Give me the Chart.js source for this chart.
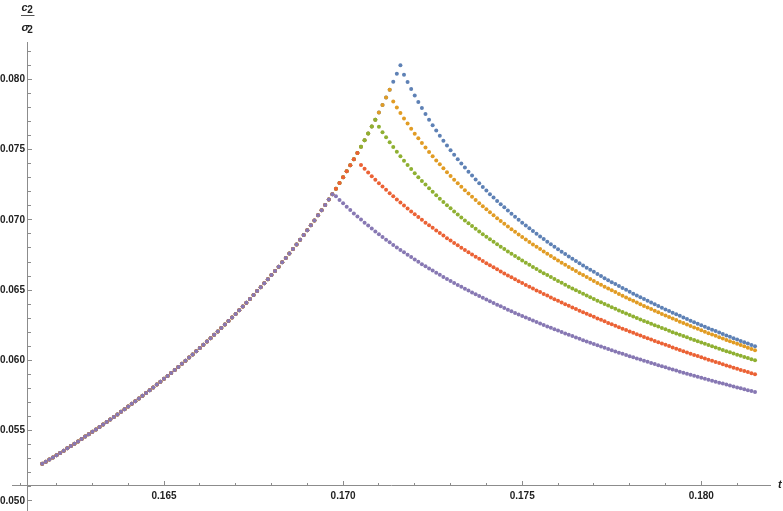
<!DOCTYPE html>
<html>
<head>
<meta charset="utf-8">
<title>c2 / sigma2 vs t</title>
<script src="https://cdn.jsdelivr.net/npm/chart.js@4.4.1/dist/chart.umd.min.js"></script>
<style>
  html, body { margin: 0; padding: 0; background: #fff; }
  #wrap { width: 783px; height: 511px; }
</style>
</head>
<body>
<div id="wrap"><canvas id="chart" width="783" height="511"></canvas></div>
<script>
// t values (shared by every series)
const tValues = [
  0.1616, 0.1617, 0.1618, 0.1619, 0.1620, 0.1621, 0.1622, 0.1623, 0.1624, 0.1625,
  0.1626, 0.1627, 0.1628, 0.1629, 0.1630, 0.1631, 0.1632, 0.1633, 0.1634, 0.1635,
  0.1636, 0.1637, 0.1638, 0.1639, 0.1640, 0.1641, 0.1642, 0.1643, 0.1644, 0.1645,
  0.1646, 0.1647, 0.1648, 0.1649, 0.1650, 0.1651, 0.1652, 0.1653, 0.1654, 0.1655,
  0.1656, 0.1657, 0.1658, 0.1659, 0.1660, 0.1661, 0.1662, 0.1663, 0.1664, 0.1665,
  0.1666, 0.1667, 0.1668, 0.1669, 0.1670, 0.1671, 0.1672, 0.1673, 0.1674, 0.1675,
  0.1676, 0.1677, 0.1678, 0.1679, 0.1680, 0.1681, 0.1682, 0.1683, 0.1684, 0.1685,
  0.1686, 0.1687, 0.1688, 0.1689, 0.1690, 0.1691, 0.1692, 0.1693, 0.1694, 0.1695,
  0.1696, 0.1697, 0.1698, 0.1699, 0.1700, 0.1701, 0.1702, 0.1703, 0.1704, 0.1705,
  0.1706, 0.1707, 0.1708, 0.1709, 0.1710, 0.1711, 0.1712, 0.1713, 0.1714, 0.1715,
  0.1716, 0.1717, 0.1718, 0.1719, 0.1720, 0.1721, 0.1722, 0.1723, 0.1724, 0.1725,
  0.1726, 0.1727, 0.1728, 0.1729, 0.1730, 0.1731, 0.1732, 0.1733, 0.1734, 0.1735,
  0.1736, 0.1737, 0.1738, 0.1739, 0.1740, 0.1741, 0.1742, 0.1743, 0.1744, 0.1745,
  0.1746, 0.1747, 0.1748, 0.1749, 0.1750, 0.1751, 0.1752, 0.1753, 0.1754, 0.1755,
  0.1756, 0.1757, 0.1758, 0.1759, 0.1760, 0.1761, 0.1762, 0.1763, 0.1764, 0.1765,
  0.1766, 0.1767, 0.1768, 0.1769, 0.1770, 0.1771, 0.1772, 0.1773, 0.1774, 0.1775,
  0.1776, 0.1777, 0.1778, 0.1779, 0.1780, 0.1781, 0.1782, 0.1783, 0.1784, 0.1785,
  0.1786, 0.1787, 0.1788, 0.1789, 0.1790, 0.1791, 0.1792, 0.1793, 0.1794, 0.1795,
  0.1796, 0.1797, 0.1798, 0.1799, 0.1800, 0.1801, 0.1802, 0.1803, 0.1804, 0.1805,
  0.1806, 0.1807, 0.1808, 0.1809, 0.1810, 0.1811, 0.1812, 0.1813, 0.1814, 0.1815
];

// common rising branch (all five series lie on it up to their own peak)
const riseShared = [
  0.05264, 0.05279, 0.05295, 0.05310, 0.05326, 0.05342, 0.05358, 0.05375, 0.05391, 0.05408,
  0.05424, 0.05441, 0.05458, 0.05475, 0.05492, 0.05509, 0.05527, 0.05544, 0.05562, 0.05580,
  0.05598, 0.05616, 0.05635, 0.05653, 0.05672, 0.05691, 0.05710, 0.05729, 0.05749, 0.05768,
  0.05788, 0.05808, 0.05828, 0.05849, 0.05869, 0.05890, 0.05911, 0.05932, 0.05954, 0.05976,
  0.05998, 0.06020, 0.06042, 0.06065, 0.06088, 0.06111, 0.06134, 0.06158, 0.06182, 0.06206,
  0.06230, 0.06255, 0.06280, 0.06306, 0.06331, 0.06357, 0.06384, 0.06410, 0.06437, 0.06465,
  0.06493, 0.06521, 0.06549, 0.06578, 0.06608, 0.06637, 0.06667, 0.06698, 0.06729, 0.06761,
  0.06793, 0.06825, 0.06859, 0.06892, 0.06926, 0.06961, 0.06996, 0.07032, 0.07069, 0.07106,
  0.07144, 0.07183, 0.07222, 0.07262, 0.07303, 0.07345, 0.07388, 0.07431, 0.07476, 0.07521,
  0.07567, 0.07615, 0.07664, 0.07713, 0.07764, 0.07817, 0.07870, 0.07925, 0.07982, 0.08040,
  0.08100
];

// falling branches, each one runs to the last t value
const blueDrop = [
  0.08033, 0.07981, 0.07931, 0.07884, 0.07838, 0.07795, 0.07753, 0.07712, 0.07673, 0.07635,
  0.07599, 0.07563, 0.07529, 0.07496, 0.07463, 0.07432, 0.07401, 0.07372, 0.07343, 0.07315,
  0.07287, 0.07260, 0.07234, 0.07208, 0.07183, 0.07159, 0.07135, 0.07111, 0.07089, 0.07066,
  0.07044, 0.07022, 0.07001, 0.06980, 0.06960, 0.06940, 0.06920, 0.06901, 0.06882, 0.06863,
  0.06845, 0.06827, 0.06809, 0.06791, 0.06774, 0.06757, 0.06740, 0.06724, 0.06707, 0.06691,
  0.06676, 0.06660, 0.06645, 0.06630, 0.06615, 0.06600, 0.06585, 0.06571, 0.06557, 0.06543,
  0.06529, 0.06515, 0.06502, 0.06488, 0.06475, 0.06462, 0.06449, 0.06437, 0.06424, 0.06412,
  0.06399, 0.06387, 0.06375, 0.06363, 0.06351, 0.06340, 0.06328, 0.06317, 0.06306, 0.06294,
  0.06283, 0.06272, 0.06261, 0.06251, 0.06240, 0.06229, 0.06219, 0.06209, 0.06198, 0.06188,
  0.06178, 0.06168, 0.06158, 0.06149, 0.06139, 0.06129, 0.06120, 0.06110, 0.06101
];

const orangeDrop = [
  0.07842, 0.07800, 0.07760,
  0.07722, 0.07685, 0.07648, 0.07613, 0.07580, 0.07547, 0.07515, 0.07483, 0.07453, 0.07423,
  0.07395, 0.07367, 0.07339, 0.07312, 0.07286, 0.07261, 0.07236, 0.07211, 0.07187, 0.07164,
  0.07141, 0.07118, 0.07096, 0.07075, 0.07054, 0.07033, 0.07012, 0.06992, 0.06972, 0.06953,
  0.06934, 0.06915, 0.06896, 0.06878, 0.06860, 0.06843, 0.06825, 0.06808, 0.06792, 0.06775,
  0.06759, 0.06742, 0.06727, 0.06711, 0.06695, 0.06680, 0.06665, 0.06650, 0.06636, 0.06621,
  0.06607, 0.06593, 0.06579, 0.06565, 0.06551, 0.06538, 0.06525, 0.06512, 0.06499, 0.06486,
  0.06473, 0.06460, 0.06448, 0.06436, 0.06424, 0.06412, 0.06400, 0.06388, 0.06376, 0.06365,
  0.06353, 0.06342, 0.06331, 0.06320, 0.06309, 0.06298, 0.06287, 0.06276, 0.06266, 0.06255,
  0.06245, 0.06235, 0.06225, 0.06214, 0.06204, 0.06194, 0.06185, 0.06175, 0.06165, 0.06156,
  0.06146, 0.06137, 0.06127, 0.06118, 0.06109, 0.06100, 0.06091, 0.06082, 0.06073
];

const greenDrop = [
  0.07662, 0.07624, 0.07587, 0.07552, 0.07518, 0.07484, 0.07452,
  0.07421, 0.07390, 0.07361, 0.07332, 0.07304, 0.07277, 0.07251, 0.07225, 0.07200, 0.07175,
  0.07151, 0.07127, 0.07104, 0.07082, 0.07060, 0.07038, 0.07017, 0.06996, 0.06976, 0.06956,
  0.06936, 0.06917, 0.06898, 0.06880, 0.06862, 0.06844, 0.06826, 0.06809, 0.06792, 0.06775,
  0.06759, 0.06742, 0.06726, 0.06711, 0.06695, 0.06680, 0.06665, 0.06650, 0.06635, 0.06621,
  0.06607, 0.06593, 0.06579, 0.06565, 0.06552, 0.06538, 0.06525, 0.06512, 0.06499, 0.06487,
  0.06474, 0.06462, 0.06449, 0.06437, 0.06425, 0.06414, 0.06402, 0.06390, 0.06379, 0.06367,
  0.06356, 0.06345, 0.06334, 0.06323, 0.06313, 0.06302, 0.06292, 0.06281, 0.06271, 0.06261,
  0.06251, 0.06241, 0.06231, 0.06221, 0.06211, 0.06201, 0.06192, 0.06182, 0.06173, 0.06164,
  0.06154, 0.06145, 0.06136, 0.06127, 0.06118, 0.06110, 0.06101, 0.06092, 0.06083, 0.06075,
  0.06066, 0.06058, 0.06050, 0.06041, 0.06033, 0.06025, 0.06017, 0.06009, 0.06001
];

const redDrop = [
  0.07390, 0.07363,
  0.07337, 0.07311, 0.07286, 0.07261, 0.07237, 0.07214, 0.07190, 0.07168, 0.07145, 0.07123,
  0.07102, 0.07081, 0.07060, 0.07040, 0.07020, 0.07000, 0.06980, 0.06961, 0.06943, 0.06924,
  0.06906, 0.06888, 0.06870, 0.06853, 0.06836, 0.06819, 0.06802, 0.06786, 0.06770, 0.06754,
  0.06738, 0.06723, 0.06707, 0.06692, 0.06677, 0.06662, 0.06648, 0.06633, 0.06619, 0.06605,
  0.06591, 0.06577, 0.06564, 0.06550, 0.06537, 0.06524, 0.06511, 0.06498, 0.06486, 0.06473,
  0.06461, 0.06448, 0.06436, 0.06424, 0.06412, 0.06400, 0.06389, 0.06377, 0.06366, 0.06354,
  0.06343, 0.06332, 0.06321, 0.06310, 0.06299, 0.06289, 0.06278, 0.06267, 0.06257, 0.06247,
  0.06236, 0.06226, 0.06216, 0.06206, 0.06196, 0.06186, 0.06177, 0.06167, 0.06157, 0.06148,
  0.06139, 0.06129, 0.06120, 0.06111, 0.06102, 0.06092, 0.06083, 0.06075, 0.06066, 0.06057,
  0.06048, 0.06039, 0.06031, 0.06022, 0.06014, 0.06005, 0.05997, 0.05989, 0.05981, 0.05972,
  0.05964, 0.05956, 0.05948, 0.05940, 0.05932, 0.05924, 0.05917, 0.05909, 0.05901
];

const purpleDrop = [
  0.07168, 0.07142, 0.07118, 0.07093, 0.07070, 0.07046, 0.07024, 0.07002, 0.06980,
  0.06959, 0.06938, 0.06918, 0.06898, 0.06878, 0.06859, 0.06840, 0.06822, 0.06804, 0.06786,
  0.06769, 0.06751, 0.06735, 0.06718, 0.06702, 0.06685, 0.06670, 0.06654, 0.06639, 0.06624,
  0.06609, 0.06594, 0.06580, 0.06565, 0.06551, 0.06537, 0.06524, 0.06510, 0.06497, 0.06484,
  0.06471, 0.06458, 0.06445, 0.06433, 0.06421, 0.06409, 0.06396, 0.06385, 0.06373, 0.06361,
  0.06350, 0.06338, 0.06327, 0.06316, 0.06305, 0.06294, 0.06284, 0.06273, 0.06262, 0.06252,
  0.06242, 0.06232, 0.06221, 0.06212, 0.06202, 0.06192, 0.06182, 0.06173, 0.06163, 0.06154,
  0.06144, 0.06135, 0.06126, 0.06117, 0.06108, 0.06099, 0.06090, 0.06081, 0.06073, 0.06064,
  0.06055, 0.06047, 0.06039, 0.06030, 0.06022, 0.06014, 0.06006, 0.05998, 0.05990, 0.05982,
  0.05974, 0.05966, 0.05958, 0.05951, 0.05943, 0.05935, 0.05928, 0.05920, 0.05913, 0.05906,
  0.05898, 0.05891, 0.05884, 0.05877, 0.05870, 0.05863, 0.05856, 0.05849, 0.05842, 0.05835,
  0.05828, 0.05822, 0.05815, 0.05808, 0.05802, 0.05795, 0.05788, 0.05782, 0.05775
];

// tick labels
const xTickLabels = ['0.165', '0.170', '0.175', '0.180'];
const yTickLabels = ['0.050', '0.055', '0.060', '0.065', '0.070', '0.075', '0.080'];

// where the axes cross
const X_AXIS_AT = 0.051066;   // y value of the horizontal axis
const Y_AXIS_AT = 0.161203;   // t value of the vertical axis
const Y_LABEL_AT = 0.161119;  // right edge of the y tick labels

// pixel calibration of the reference picture (two ticks per axis)
const REF_X = { v0: 0.165, p0: 164, v1: 0.180, p1: 701.3 };
const REF_Y = { v0: 0.080, p0: 79.3, v1: 0.055, p1: 430.7 };

function valueAt(ref, px) {
  return ref.v0 + (px - ref.p0) * (ref.v1 - ref.v0) / (ref.p1 - ref.p0);
}

const axisGray = '#8c8c8c';
const labelColor = '#222';
const tickFont = { family: "'Liberation Sans', Arial, sans-serif", size: 10, weight: 'bold' };

function buildSeries(drop) {
  const riseCount = tValues.length - drop.length;
  const ys = riseShared.slice(0, riseCount).concat(drop);
  return ys.map((v, i) => ({ x: tValues[i], y: v }));
}

const seriesList = [
  { label: 'series 1', drop: blueDrop, color: '#5E81B5', order: 4 },
  { label: 'series 2', drop: orangeDrop, color: '#E19C24', order: 3 },
  { label: 'series 3', drop: greenDrop, color: '#8FB032', order: 2 },
  { label: 'series 4', drop: redDrop, color: '#EB6235', order: 1 },
  { label: 'series 5', drop: purpleDrop, color: '#8778B3', order: 0 }
];

// scale paddings would shrink the chart area, drop them
function zeroPad(scale) {
  scale.paddingLeft = 0;
  scale.paddingRight = 0;
  scale.paddingTop = 0;
  scale.paddingBottom = 0;
}

function pickLabel(list) {
  return (value) => {
    const s = Number(value).toFixed(3);
    return list.includes(s) ? s : '';
  };
}

// first guess of the ranges, corrected after layout
function hScale(opts) {
  return Object.assign({
    type: 'linear', axis: 'x', min: valueAt(REF_X, 12), max: valueAt(REF_X, 770),
    position: { y: X_AXIS_AT }, afterFit: zeroPad
  }, opts);
}

function vScale(opts) {
  return Object.assign({
    type: 'linear', axis: 'y', min: valueAt(REF_Y, 511), max: valueAt(REF_Y, 42),
    afterFit: zeroPad
  }, opts);
}

// axis titles: c2 over sigma2 on top of the vertical axis, t at the end of the horizontal one
const axisTitles = {
  id: 'axisTitles',
  afterDraw(chart) {
    const { ctx } = chart;
    const ax = chart.scales.x.getPixelForValue(Y_AXIS_AT);
    const ay = chart.scales.y.getPixelForValue(X_AXIS_AT);
    ctx.save();
    ctx.fillStyle = labelColor;
    ctx.textAlign = 'left';
    ctx.textBaseline = 'alphabetic';

    ctx.font = "italic bold 11px 'Liberation Sans', Arial, sans-serif";
    ctx.fillText('c', ax - 6.5, 11);
    ctx.font = "bold 10px 'Liberation Sans', Arial, sans-serif";
    ctx.fillText('2', ax - 0.8, 12.8);

    ctx.strokeStyle = '#555';
    ctx.lineWidth = 1;
    ctx.beginPath();
    ctx.moveTo(ax - 7, 15.5);
    ctx.lineTo(ax + 6.5, 15.5);
    ctx.stroke();

    ctx.font = "italic bold 11px 'Liberation Sans', Arial, sans-serif";
    ctx.fillText('σ', ax - 6.5, 31);
    ctx.font = "bold 10px 'Liberation Sans', Arial, sans-serif";
    ctx.fillText('2', ax - 0.8, 33);

    ctx.font = "italic bold 11px 'Liberation Sans', Arial, sans-serif";
    ctx.fillText('t', chart.chartArea.right + 8, ay + 2.5);
    ctx.restore();
  }
};

const chart = new Chart(document.getElementById('chart'), {
  type: 'scatter',
  data: {
    datasets: seriesList.map((s) => ({
      label: s.label,
      data: buildSeries(s.drop),
      order: s.order,
      showLine: false,
      pointStyle: 'circle',
      pointRadius: 2,
      pointBorderWidth: 0,
      backgroundColor: s.color,
      borderColor: s.color
    }))
  },
  options: {
    responsive: false,
    animation: false,
    events: [],
    devicePixelRatio: 1,
    layout: { autoPadding: false, padding: { left: 12, right: 13, top: 42, bottom: 0 } },
    plugins: {
      legend: { display: false },
      tooltip: { enabled: false }
    },
    scales: {
      x: hScale({
        border: { display: true, color: axisGray, width: 1 },
        grid: { drawOnChartArea: false, tickLength: -5, tickColor: axisGray, tickWidth: 1 },
        ticks: {
          stepSize: 0.005, includeBounds: false, autoSkip: false, maxRotation: 0,
          padding: 9, font: tickFont, color: labelColor, callback: pickLabel(xTickLabels)
        }
      }),
      xMinor: hScale({
        border: { display: false },
        grid: { drawOnChartArea: false, tickLength: -3, tickColor: axisGray, tickWidth: 1 },
        ticks: { stepSize: 0.001, includeBounds: false, autoSkip: false, display: false }
      }),
      y: vScale({
        position: { x: Y_AXIS_AT },
        border: { display: true, color: axisGray, width: 1 },
        grid: { drawOnChartArea: false, tickLength: -5, tickColor: axisGray, tickWidth: 1 },
        ticks: { stepSize: 0.005, includeBounds: false, autoSkip: false, display: false }
      }),
      yMinor: vScale({
        position: { x: Y_AXIS_AT },
        border: { display: false },
        grid: { drawOnChartArea: false, tickLength: -3, tickColor: axisGray, tickWidth: 1 },
        ticks: { stepSize: 0.001, includeBounds: false, autoSkip: false, display: false }
      }),
      yLabels: vScale({
        position: { x: Y_LABEL_AT },
        border: { display: false },
        grid: { display: false, drawOnChartArea: false },
        ticks: {
          stepSize: 0.005, includeBounds: false, autoSkip: false, padding: 0,
          font: tickFont, color: labelColor, callback: pickLabel(yTickLabels)
        }
      })
    }
  },
  plugins: [axisTitles]
});

// match the value-to-pixel mapping of the reference to the real chart area
for (let pass = 0; pass < 2; pass++) {
  const area = chart.chartArea;
  ['x', 'xMinor'].forEach((id) => {
    chart.options.scales[id].min = valueAt(REF_X, area.left);
    chart.options.scales[id].max = valueAt(REF_X, area.right);
  });
  ['y', 'yMinor', 'yLabels'].forEach((id) => {
    chart.options.scales[id].min = valueAt(REF_Y, area.bottom);
    chart.options.scales[id].max = valueAt(REF_Y, area.top);
  });
  chart.update();
}
</script>
</body>
</html>
